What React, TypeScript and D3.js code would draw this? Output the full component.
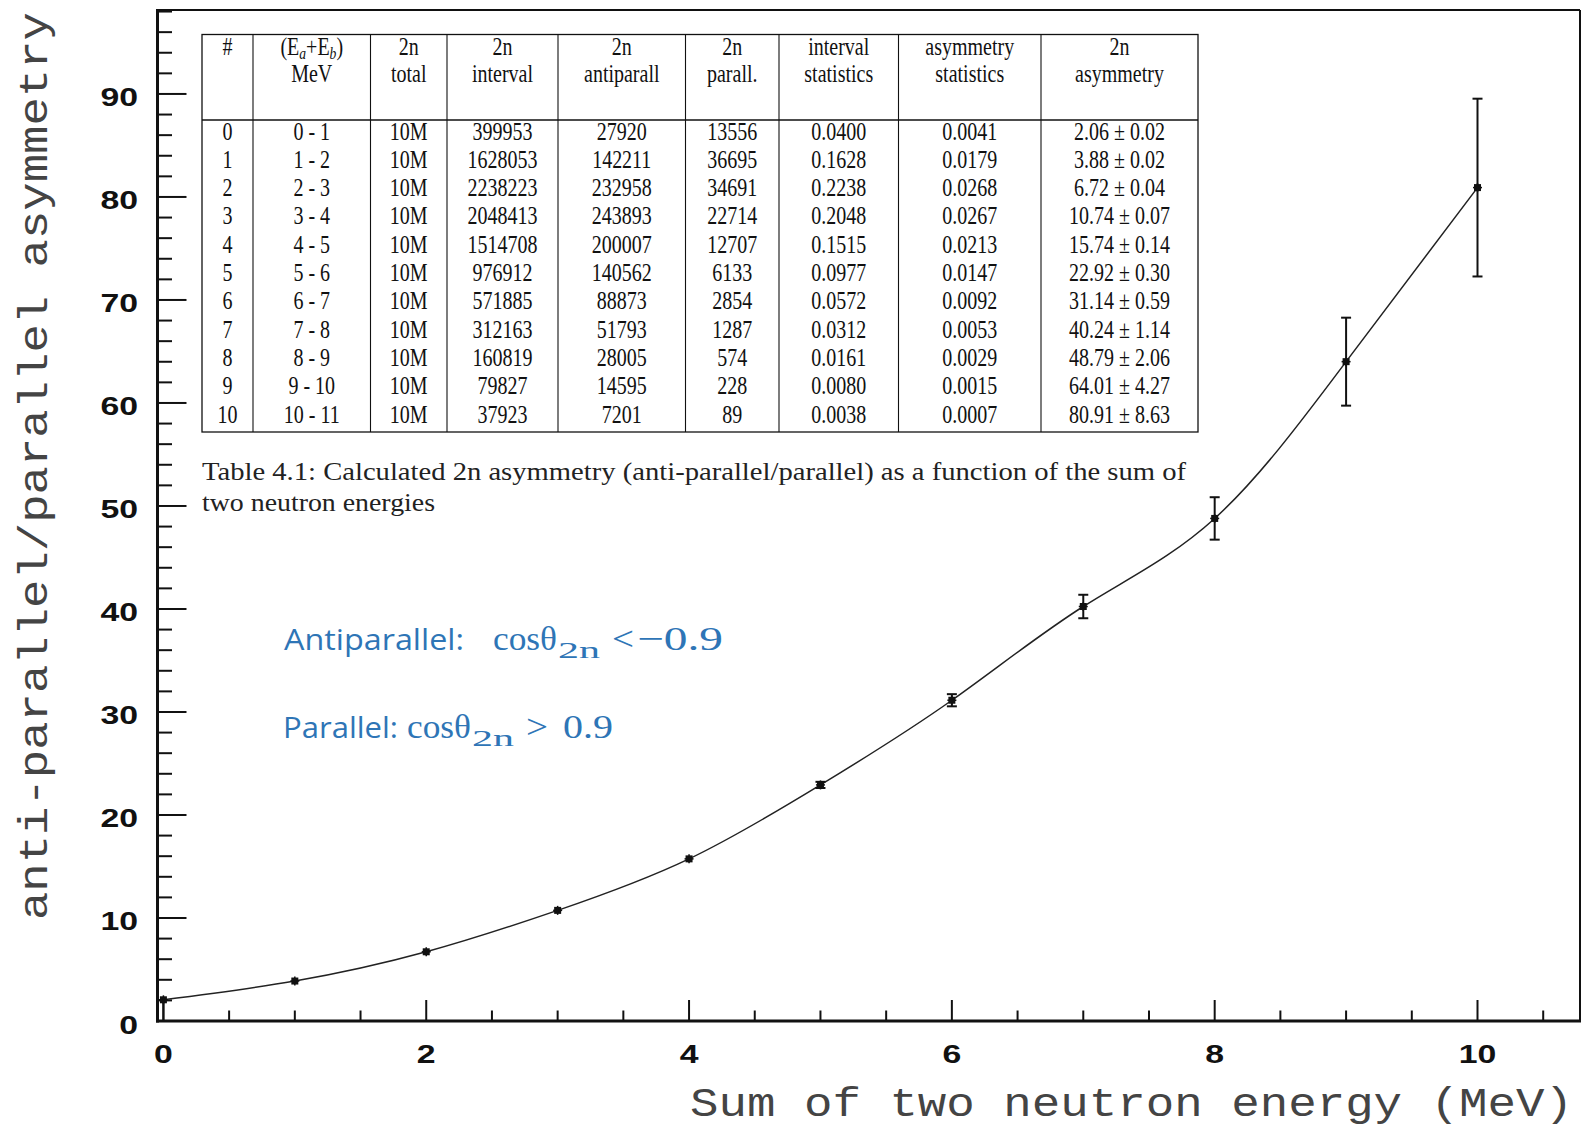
import React from "react";
import * as d3 from "d3";

// ---- data ----
const energies = [0, 1, 2, 3, 4, 5, 6, 7, 8, 9, 10];
const asymmetry = [2.06, 3.88, 6.72, 10.74, 15.74, 22.92, 31.14, 40.24, 48.79, 64.01, 80.91];
const asymmetryErr = [0.02, 0.02, 0.04, 0.07, 0.14, 0.3, 0.59, 1.14, 2.06, 4.27, 8.63];

const intervalCounts = [399953, 1628053, 2238223, 2048413, 1514708, 976912, 571885, 312163, 160819, 79827, 37923];
const antiparallelCounts = [27920, 142211, 232958, 243893, 200007, 140562, 88873, 51793, 28005, 14595, 7201];
const parallelCounts = [13556, 36695, 34691, 22714, 12707, 6133, 2854, 1287, 574, 228, 89];
const intervalStats = ["0.0400", "0.1628", "0.2238", "0.2048", "0.1515", "0.0977", "0.0572", "0.0312", "0.0161", "0.0080", "0.0038"];
const asymStats = ["0.0041", "0.0179", "0.0268", "0.0267", "0.0213", "0.0147", "0.0092", "0.0053", "0.0029", "0.0015", "0.0007"];
const totalLabel = "10M";

const headerLine1 = ["#", "", "2n", "2n", "2n", "2n", "interval", "asymmetry", "2n"];
const headerLine2 = ["", "MeV", "total", "interval", "antiparall", "parall.", "statistics", "statistics", "asymmetry"];

const xMajorTicks = [0, 2, 4, 6, 8, 10];
const yMajorTicks = [0, 10, 20, 30, 40, 50, 60, 70, 80, 90];

const xTitle = "Sum of two neutron energy (MeV)";
const yTitle = "anti-parallel/parallel asymmetry";
const captionLine1 = "Table 4.1: Calculated 2n asymmetry (anti-parallel/parallel) as a function of the sum of";
const captionLine2 = "two neutron energies";

// ---- layout ----
const W = 1583;
const H = 1130;
const left = 157.5;
const right = 1580;
const top = 10;
const bottom = 1021;
const colEdges = [202, 253, 370.5, 447, 558, 685.5, 779, 898.5, 1041, 1198];
const tableTop = 34.5;
const headerBottom = 120;
const tableBottom = 432;
const blue = "#2E75B6";

export default function App() {
  const x = d3.scaleLinear().domain([-0.045, 10.78]).range([left, right]);
  const y = d3.scaleLinear().domain([0, 98.15]).range([bottom, top]);

  const line = d3
    .line<number>()
    .x((_, i) => x(energies[i]))
    .y((d) => y(d))
    .curve(d3.curveNatural);

  const xMinor = d3.range(0, 10.75, 0.5).filter((v) => !xMajorTicks.includes(v));
  const yMinor = d3.range(0, 98.1, 2).filter((v) => !yMajorTicks.includes(v));

  const rows = energies.map((e, i) => [
    String(i),
    `${e} - ${e + 1}`,
    totalLabel,
    String(intervalCounts[i]),
    String(antiparallelCounts[i]),
    String(parallelCounts[i]),
    intervalStats[i],
    asymStats[i],
    `${asymmetry[i].toFixed(2)} \u00b1 ${asymmetryErr[i].toFixed(2)}`,
  ]);

  const colCenter = (j: number) => (colEdges[j] + colEdges[j + 1]) / 2;
  const tFont = "'Liberation Serif', 'Times New Roman', serif";
  const tSize = 25;
  const tScale = 0.8;
  const rowBase = (i: number) => 139.5 + i * 28.3;

  const tickFont = "'Liberation Sans', Arial, sans-serif";
  const monoFont = "'Liberation Mono', 'Courier New', monospace";

  return (
    <svg
      width={W}
      height={H}
      style={{ position: "absolute", left: 0, top: 0, background: "#fff" }}
    >
      <rect x={0} y={0} width={W} height={H} fill="#fff" />

      {/* frame */}
      <line x1={left} x2={right} y1={top} y2={top} stroke="#111" strokeWidth={2} />
      <line x1={right} x2={right} y1={top} y2={bottom} stroke="#111" strokeWidth={2} />

      {/* y ticks */}
      {yMajorTicks.map((v) => (
        <line key={"ym" + v} x1={left} x2={left + 29} y1={y(v)} y2={y(v)} stroke="#111" strokeWidth={2} />
      ))}
      {yMinor.map((v) => (
        <line key={"yn" + v} x1={left} x2={left + 14.5} y1={y(v)} y2={y(v)} stroke="#111" strokeWidth={2} />
      ))}
      {/* x ticks */}
      {xMajorTicks.map((v) => (
        <line key={"xm" + v} x1={x(v)} x2={x(v)} y1={bottom} y2={bottom - 21} stroke="#111" strokeWidth={2} />
      ))}
      {xMinor.map((v) => (
        <line key={"xn" + v} x1={x(v)} x2={x(v)} y1={bottom} y2={bottom - 10.5} stroke="#111" strokeWidth={2} />
      ))}

      {/* axes */}
      <line x1={left} x2={left} y1={top - 1} y2={bottom + 1.5} stroke="#111" strokeWidth={3} />
      <line x1={left - 1.5} x2={right + 1} y1={bottom} y2={bottom} stroke="#111" strokeWidth={3} />

      {/* tick labels */}
      {yMajorTicks.map((v) => (
        <text
          key={"yl" + v}
          transform={`translate(138,${y(v) + 12.5}) scale(1.3,1)`}
          textAnchor="end"
          fontFamily={tickFont}
          fontWeight="bold"
          fontSize={26}
          fill="#111"
        >
          {v}
        </text>
      ))}
      {xMajorTicks.map((v) => (
        <text
          key={"xl" + v}
          transform={`translate(${x(v)},1063) scale(1.3,1)`}
          textAnchor="middle"
          fontFamily={tickFont}
          fontWeight="bold"
          fontSize={26}
          fill="#111"
        >
          {v}
        </text>
      ))}

      {/* axis titles */}
      <text
        x={690}
        y={1116}
        fontFamily={monoFont}
        fontSize={40}
        textLength={883}
        lengthAdjust="spacingAndGlyphs"
        fill="#444"
      >
        {xTitle}
      </text>
      <text
        transform={`translate(47,920) rotate(-90)`}
        x={0}
        y={0}
        fontFamily={monoFont}
        fontSize={40}
        textLength={908}
        lengthAdjust="spacingAndGlyphs"
        fill="#444"
      >
        {yTitle}
      </text>

      {/* curve */}
      <path d={line(asymmetry) || ""} fill="none" stroke="#222" strokeWidth={1.5} />

      {/* line at first point down to axis */}
      <line x1={x(energies[0])} x2={x(energies[0])} y1={y(asymmetry[0])} y2={y(0)} stroke="#111" strokeWidth={2} />

      {/* error bars and markers */}
      {energies.map((e, i) => {
        const lo = y(asymmetry[i] - asymmetryErr[i]);
        const hi = y(asymmetry[i] + asymmetryErr[i]);
        const cx = x(e);
        const cy = y(asymmetry[i]);
        const showBar = Math.abs(lo - hi) > 6;
        return (
          <g key={"eb" + i}>
            {showBar && (
              <>
                <line x1={cx} x2={cx} y1={lo} y2={hi} stroke="#111" strokeWidth={2} />
                <line x1={cx - 5} x2={cx + 5} y1={lo} y2={lo} stroke="#111" strokeWidth={2} />
                <line x1={cx - 5} x2={cx + 5} y1={hi} y2={hi} stroke="#111" strokeWidth={2} />
              </>
            )}
            <rect x={cx - 3.5} y={cy - 3.5} width={7} height={7} fill="#111" />
            <line x1={cx - 4.5} x2={cx + 4.5} y1={cy} y2={cy} stroke="#111" strokeWidth={1.5} />
            <line x1={cx} x2={cx} y1={cy - 4.5} y2={cy + 4.5} stroke="#111" strokeWidth={1.5} />
          </g>
        );
      })}

      {/* table */}
      <g>
        <rect
          x={colEdges[0]}
          y={tableTop}
          width={colEdges[colEdges.length - 1] - colEdges[0]}
          height={tableBottom - tableTop}
          fill="#fff"
          stroke="#111"
          strokeWidth={1.3}
        />
        <line x1={colEdges[0]} x2={colEdges[colEdges.length - 1]} y1={headerBottom} y2={headerBottom} stroke="#111" strokeWidth={1.3} />
        {colEdges.slice(1, -1).map((cx, j) => (
          <line key={"ce" + j} x1={cx} x2={cx} y1={tableTop} y2={tableBottom} stroke="#111" strokeWidth={1.1} />
        ))}
        {headerLine1.map((t, j) => (
          <text
            key={"h1" + j}
            transform={`translate(${colCenter(j)},55) scale(${tScale},1)`}
            textAnchor="middle"
            fontFamily={tFont}
            fontSize={tSize}
            fill="#111"
          >
            {j === 1 ? (
              <>
                (E<tspan fontStyle="italic" fontSize={17} dy={4}>a</tspan>
                <tspan dy={-4}>+E</tspan>
                <tspan fontStyle="italic" fontSize={17} dy={4}>b</tspan>
                <tspan dy={-4}>)</tspan>
              </>
            ) : (
              t
            )}
          </text>
        ))}
        {headerLine2.map((t, j) => (
          <text
            key={"h2" + j}
            transform={`translate(${colCenter(j)},82) scale(${tScale},1)`}
            textAnchor="middle"
            fontFamily={tFont}
            fontSize={tSize}
            fill="#111"
          >
            {t}
          </text>
        ))}
        {rows.map((r, i) =>
          r.map((t, j) => (
            <text
              key={"c" + i + "_" + j}
              transform={`translate(${colCenter(j)},${rowBase(i)}) scale(${tScale},1)`}
              textAnchor="middle"
              fontFamily={tFont}
              fontSize={tSize}
              fill="#111"
            >
              {t}
            </text>
          ))
        )}
      </g>

      {/* caption */}
      <text x={202} y={480} fontFamily={tFont} fontSize={25} textLength={984} lengthAdjust="spacingAndGlyphs" fill="#222">
        {captionLine1}
      </text>
      <text x={202} y={511} fontFamily={tFont} fontSize={25} textLength={233} lengthAdjust="spacingAndGlyphs" fill="#222">
        {captionLine2}
      </text>

      {/* annotations */}
      <g fill={blue}>
        <text x={284} y={650} fontFamily="'Open Sans', 'Noto Sans', sans-serif" fontSize={30} textLength={180} lengthAdjust="spacingAndGlyphs">
          Antiparallel:
        </text>
        <text x={493} y={650} fontFamily={tFont} fontSize={34} textLength={64} lengthAdjust="spacingAndGlyphs">
          cosθ
        </text>
        <text x={558} y={658} fontFamily={tFont} fontSize={24} textLength={42} lengthAdjust="spacingAndGlyphs">
          2n
        </text>
        <text x={612} y={650} fontFamily={tFont} fontSize={34} textLength={22} lengthAdjust="spacingAndGlyphs">
          {"<"}
        </text>
        <text x={637} y={650} fontFamily={tFont} fontSize={34} textLength={86} lengthAdjust="spacingAndGlyphs">
          {"\u22120.9"}
        </text>

        <text x={283} y={738} fontFamily="'Open Sans', 'Noto Sans', sans-serif" fontSize={30} textLength={115} lengthAdjust="spacingAndGlyphs">
          Parallel:
        </text>
        <text x={407} y={738} fontFamily={tFont} fontSize={34} textLength={64} lengthAdjust="spacingAndGlyphs">
          cosθ
        </text>
        <text x={472} y={746} fontFamily={tFont} fontSize={24} textLength={42} lengthAdjust="spacingAndGlyphs">
          2n
        </text>
        <text x={526} y={738} fontFamily={tFont} fontSize={34} textLength={22} lengthAdjust="spacingAndGlyphs">
          {">"}
        </text>
        <text x={563} y={738} fontFamily={tFont} fontSize={34} textLength={50} lengthAdjust="spacingAndGlyphs">
          0.9
        </text>
      </g>
    </svg>
  );
}
